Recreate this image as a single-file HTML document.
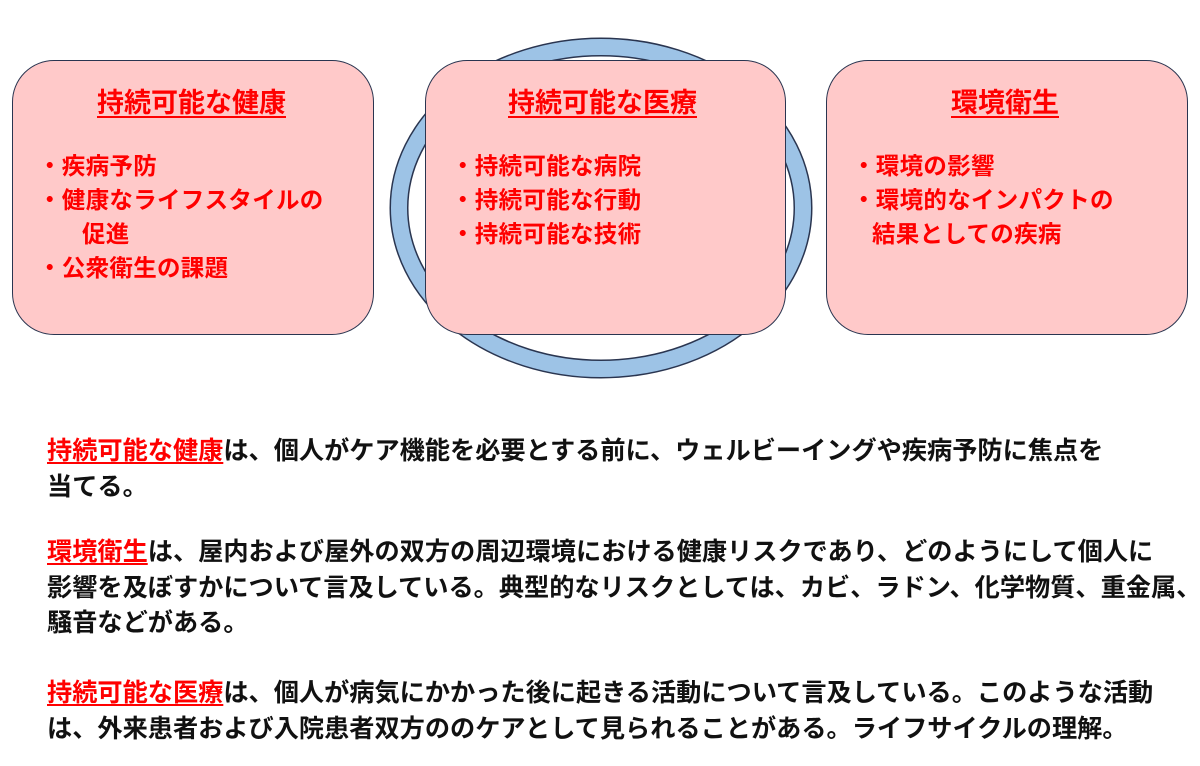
<!DOCTYPE html>
<html><head><meta charset="utf-8"><style>
body{margin:0;width:1200px;height:766px;background:#fff;position:relative;overflow:hidden;font-family:"Liberation Sans","Noto Sans CJK JP",sans-serif;font-weight:bold}
.box{position:absolute;top:60px;height:275px;background:#ffc9c9;border:1.5px solid #2a3550;border-radius:42px;box-sizing:border-box}
.t{position:absolute;top:81px;font-size:27px;color:#f00;text-decoration:underline;text-underline-offset:4px;white-space:nowrap}
.b{position:absolute;top:149px;font-size:23.5px;line-height:34px;color:#f00;white-space:nowrap;letter-spacing:0.3px}
.p{position:absolute;left:47px;font-size:25.2px;line-height:35.5px;color:#111;white-space:nowrap}
.r{color:#f00;text-decoration:underline;text-underline-offset:3px}
.i{display:inline-block;width:44px}
</style></head><body>
<svg style="position:absolute;left:0;top:0" width="1200" height="766">
<ellipse cx="601" cy="208" rx="202" ry="161" fill="none" stroke="#2a3550" stroke-width="19"/>
<ellipse cx="601" cy="208" rx="202" ry="161" fill="none" stroke="#9dc3e6" stroke-width="16"/>
</svg>
<div class="box" style="left:12px;width:362px"></div>
<div class="box" style="left:425px;width:361px"></div>
<div class="box" style="left:826px;width:362px"></div>
<div class="t" style="left:97px">持続可能な健康</div>
<div class="t" style="left:508px">持続可能な医療</div>
<div class="t" style="left:951px">環境衛生</div>
<div class="b" style="left:38px">・疾病予防<br>・健康なライフスタイルの<br><span class="i"></span>促進<br>・公衆衛生の課題</div>
<div class="b" style="left:451px">・持続可能な病院<br>・持続可能な行動<br>・持続可能な技術</div>
<div class="b" style="left:852px">・環境の影響<br>・環境的なインパクトの<br><span class="i" style="width:20px"></span>結果としての疾病</div>
<div class="p" style="top:434px"><span class="r">持続可能な健康</span>は、個人がケア機能を必要とする前に、ウェルビーイングや疾病予防に焦点を<br>当てる。</div>
<div class="p" style="top:535px"><span class="r">環境衛生</span>は、屋内および屋外の双方の周辺環境における健康リスクであり、どのようにして個人に<br>影響を及ぼすかについて言及している。典型的なリスクとしては、カビ、ラドン、化学物質、重金属、<br>騒音などがある。</div>
<div class="p" style="top:676px"><span class="r">持続可能な医療</span>は、個人が病気にかかった後に起きる活動について言及している。このような活動<br>は、外来患者および入院患者双方ののケアとして見られることがある。ライフサイクルの理解。</div>
</body></html>
